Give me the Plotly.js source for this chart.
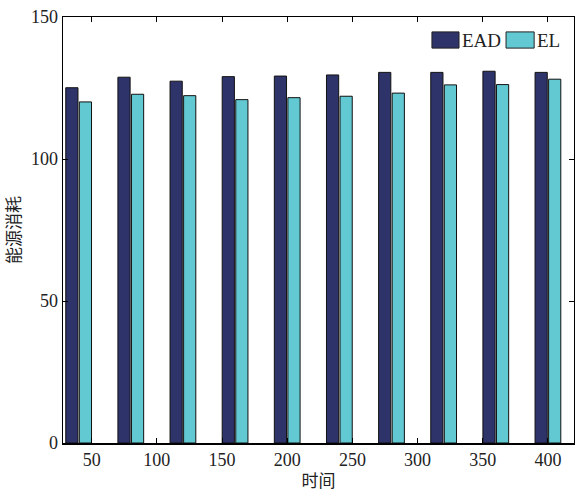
<!DOCTYPE html>
<html><head><meta charset="utf-8">
<script src="https://cdn.plot.ly/plotly-3.0.1.min.js"></script>
<style>html,body{margin:0;padding:0;background:#fff}#chart{width:575px;height:492px}</style>
</head><body><div id="chart"></div>
<script>
const groups = [1,2,3,4,5,6,7,8,9,10];
const eadValues = [125.1,128.8,127.4,129.0,129.2,129.6,130.5,130.5,130.9,130.5];
const elValues  = [120.1,122.8,122.3,120.9,121.6,122.1,123.2,126.1,126.2,128.1];
const tickPositions = [1.25,2.5,3.75,5,6.25,7.5,8.75,10];
const tickLabels = ['50','100','150','200','250','300','350','400'];
const seriesNames = ['EAD','EL'];
const seriesColors = ['#2E3369','#62C9D3'];

const font = "Liberation Serif";
const cjk = "Noto Sans CJK SC";
const traces = seriesNames.map((n,i)=>({
  type:'bar', x:groups, y:[eadValues,elValues][i], name:n, showlegend:false,
  marker:{color:seriesColors[i], line:{color:'#111111', width:1}}
}));
// custom legend (wide swatches like the reference)
const legX = [[0.722,0.775],[0.867,0.922]];
const shapes = seriesNames.map((n,i)=>({type:'rect', xref:'paper', yref:'paper',
  x0:legX[i][0], x1:legX[i][1], y0:0.927, y1:0.965,
  fillcolor:seriesColors[i], line:{color:'#222', width:1}}));
const annotations = seriesNames.map((n,i)=>({xref:'paper', yref:'paper', x:legX[i][1]+0.002, y:0.946,
  xanchor:'left', yanchor:'middle', text:n, showarrow:false, font:{family:font, size:19, color:'#222'}}));
const layout = {
  width:575, height:492,
  margin:{l:63, r:1, t:17, b:49},
  paper_bgcolor:'#fff', plot_bgcolor:'#fff',
  barmode:'group', bargap:0.48, bargroupgap:0.1,
  shapes:shapes, annotations:annotations,
  font:{family:font, size:18, color:'#222'},
  xaxis:{range:[0.7,10.5], tickmode:'array', tickvals:tickPositions, ticktext:tickLabels,
         ticks:'inside', ticklen:5, tickcolor:'#000', showline:true, linecolor:'#000', linewidth:1.5,
         mirror:'ticks', showgrid:false, zeroline:false,
         tickfont:{family:font, size:18, color:'#222'},
         title:{text:'时间', font:{family:cjk, size:17, color:'#222'}, standoff:8}},
  yaxis:{range:[0,150], tickvals:[0,50,100,150], ticks:'inside', ticklen:5, tickcolor:'#000',
         showline:true, linecolor:'#000', linewidth:1.5, mirror:'ticks', showgrid:false, zeroline:false,
         tickfont:{family:font, size:18, color:'#222'},
         title:{text:'能源消耗', font:{family:cjk, size:17, color:'#222'}, standoff:12}}
};
Plotly.newPlot('chart', traces, layout, {staticPlot:true, displayModeBar:false});
</script></body></html>
